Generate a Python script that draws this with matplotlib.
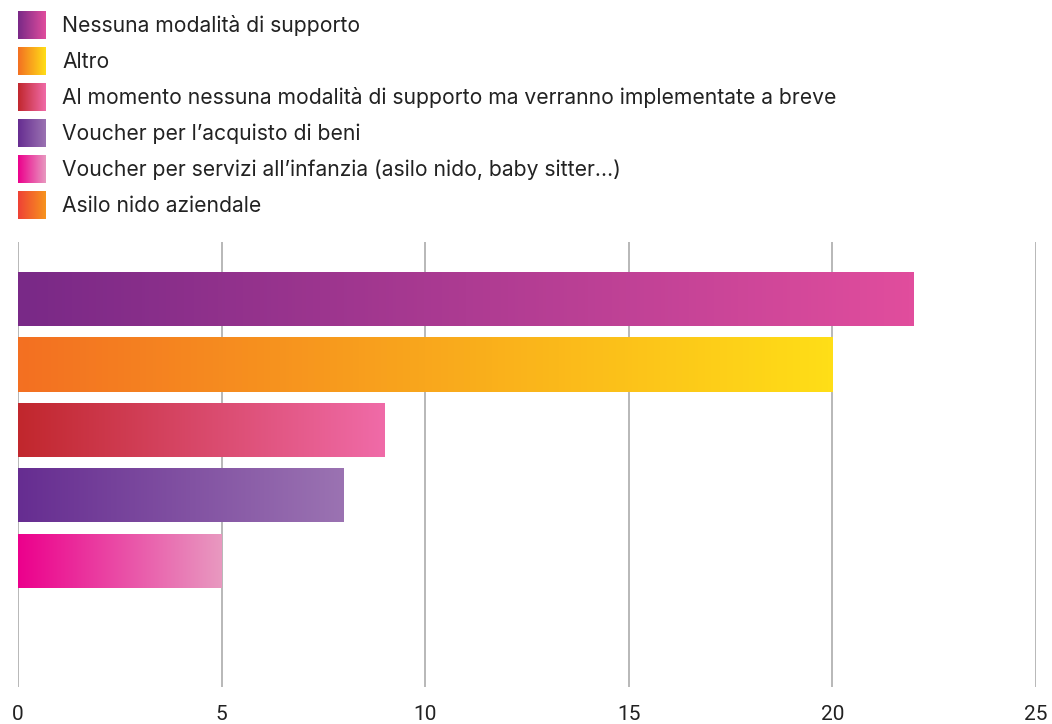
import numpy as np
import matplotlib
matplotlib.use("Agg")
import matplotlib.pyplot as plt
from matplotlib.colors import LinearSegmentedColormap

categories = [
    "Nessuna modalità di supporto",
    "Altro",
    "Al momento nessuna modalità di supporto ma verranno implementate a breve",
    "Voucher per l\u2019acquisto di beni",
    "Voucher per servizi all\u2019infanzia (asilo nido, baby sitter\u2026)",
    "Asilo nido aziendale",
]
values = [22, 20, 9, 8, 5, 0]
grad_start = ["#792987", "#F37022", "#C1272D", "#662D91", "#EC008C", "#EF4136"]
grad_end = ["#E14D9D", "#FFDE17", "#F06BA8", "#9B73B2", "#E899C0", "#F7941D"]
xticks = [0, 5, 10, 15, 20, 25]

W, H = 1052, 724
fig = plt.figure(figsize=(W / 100, H / 100), dpi=100)

# --- bar axes ---
ax = fig.add_axes([18 / W, 1 - 687 / H, (1036 - 18) / W, (687 - 242) / H])
ypos = np.arange(len(categories))
bars = ax.barh(ypos, values, height=0.83, color="none", edgecolor="none")
grad = np.linspace(0, 1, 256).reshape(1, -1)
for b, v, c0, c1 in zip(bars, values, grad_start, grad_end):
    if v <= 0:
        continue
    cmap = LinearSegmentedColormap.from_list("g", [c0, c1])
    y0 = b.get_y()
    h = b.get_height()
    im = ax.imshow(grad, cmap=cmap, aspect="auto",
                   extent=(0, v, y0 + h, y0), zorder=3, interpolation="bicubic")
    im.set_clip_path(b)

ax.set_xlim(0, 25)
ax.set_ylim(5.93, -0.87)
ax.set_xticks(xticks)
ax.set_xticklabels([str(t) for t in xticks],
                   fontdict={"family": ["Liberation Sans Narrow", "Roboto", "DejaVu Sans"], "size": 15},
                   color="#222222")
ax.set_yticks([])
ax.tick_params(axis="x", length=0, pad=13)
ax.grid(axis="x", color="#ababab", linewidth=1.2, zorder=0)
ax.set_axisbelow(True)
for s in ax.spines.values():
    s.set_visible(False)

# --- legend (drawn manually in pixel coordinates) ---
lax = fig.add_axes([0, 0, 1, 1])
lax.set_xlim(0, W)
lax.set_ylim(H, 0)
lax.axis("off")
row_y = [25, 61, 97, 133, 169, 205]
for ry, lab, c0, c1 in zip(row_y, categories, grad_start, grad_end):
    cmap = LinearSegmentedColormap.from_list("g", [c0, c1])
    lax.imshow(grad, cmap=cmap, aspect="auto",
               extent=(18, 46, ry + 14, ry - 14), interpolation="bicubic")
    lax.text(62, ry + 1, lab, va="center", ha="left", fontsize=15.2,
             family=["Inter", "DejaVu Sans"], color="#222222")
lax.set_xlim(0, W)
lax.set_ylim(H, 0)

fig.savefig("out.png", dpi=100)
